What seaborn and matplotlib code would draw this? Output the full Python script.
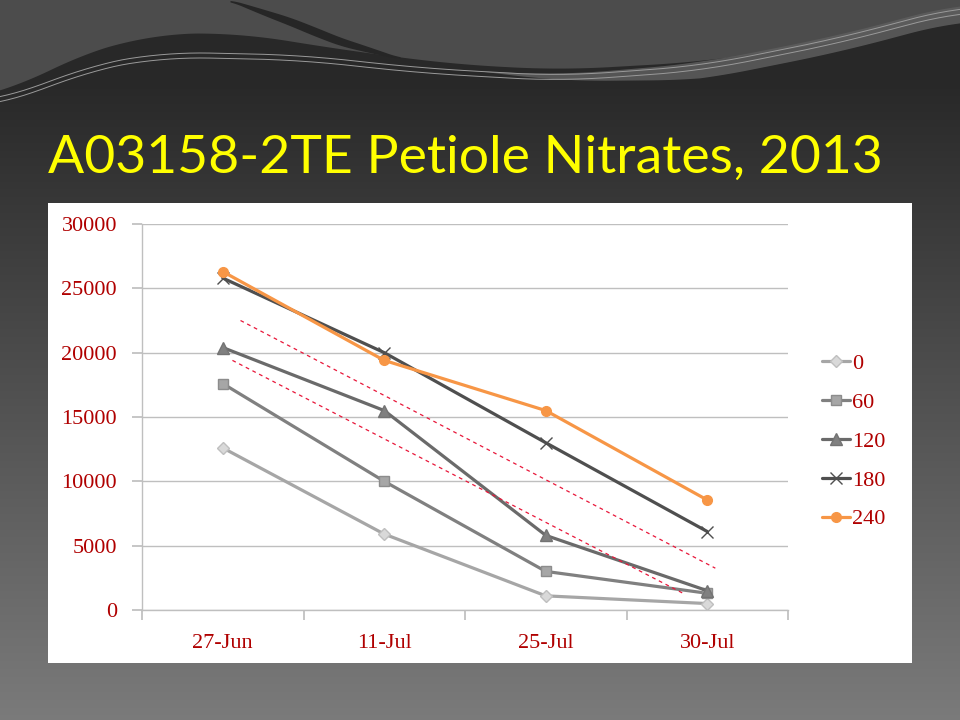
import numpy as np
import pandas as pd
import matplotlib
matplotlib.use("Agg")
import matplotlib.pyplot as plt
import seaborn as sns

# ---- data ----
categories = ['27-Jun', '11-Jul', '25-Jul', '30-Jul']
series_names = ['0', '60', '120', '180', '240']
n0 = [12600, 5900, 1100, 500]
n60 = [17600, 10000, 3000, 1300]
n120 = [20400, 15500, 5800, 1500]
n180 = [25800, 20000, 13000, 6100]
n240 = [26300, 19400, 15500, 8550]
# dashed trend guides (position along category axis, value)
trend_upper_x = [1.11, 4.05]
trend_upper_y = [22500, 3250]
trend_lower_x = [1.06, 3.85]
trend_lower_y = [19400, 1300]
y_ticks = [0, 5000, 10000, 15000, 20000, 25000, 30000]

values = [n0, n60, n120, n180, n240]
rows = []
for name, vals in zip(series_names, values):
    for i, v in enumerate(vals):
        rows.append({'series': name, 'pos': i + 1, 'value': v})
df = pd.DataFrame(rows)

sns.set_theme(style="white")
plt.rcParams['font.family'] = ['DejaVu Sans']

fig = plt.figure(figsize=(9.6, 7.2), dpi=100)

# ---- background ----
bg = fig.add_axes([0, 0, 1, 1], zorder=-10)
bg.set_xlim(0, 960)
bg.set_ylim(720, 0)
bg.axis('off')
grad = np.linspace(0, 1, 256).reshape(-1, 1)
top_c = np.array([0.16, 0.16, 0.16])
bot_c = np.array([0.48, 0.48, 0.48])
t = np.clip((grad - 0.12) / 0.88, 0, 1)
img = (top_c + (bot_c - top_c) * t).reshape(256, 1, 3)
bg.imshow(img, extent=[0, 960, 720, 0], aspect='auto', zorder=0)


def smooth(y, k=25):
    pad = np.pad(y, k, mode='edge')
    ker = np.ones(2 * k + 1) / (2 * k + 1)
    return np.convolve(pad, ker, mode='same')[k:-k]


wx = np.linspace(0, 960, 481)
upper_curve = smooth(np.interp(wx, [0, 60, 150, 240, 330, 450, 560, 700, 850, 960],
                               [98, 62, 34, 33, 48, 64, 70, 62, 40, 12]))
bg.fill_between(wx, 0, upper_curve, color='#4c4c4c', zorder=1, lw=0)
# dark streak
sx = np.linspace(230, 400, 80)
sy = smooth(np.interp(sx, [230, 290, 340, 400], [0, 20, 40, 58]), 5)
thick = 1 + 5 * np.sin(np.linspace(0, np.pi, sx.size))
bg.fill_between(sx, sy - thick / 2, sy + thick, color='#262626', zorder=2, lw=0)
# thin light lines and a soft band along them on the right
line_y = smooth(np.interp(wx, [0, 80, 160, 300, 420, 560, 700, 840, 960],
                          [102, 68, 52, 55, 68, 76, 66, 38, 6]))
band = np.clip((wx - 480) / 220, 0, 1) * 14
bg.fill_between(wx, line_y - band * 0.2, line_y + band, color='#5e5e5e',
                zorder=2, lw=0, alpha=0.85)
for off in (0, 5):
    bg.plot(wx, line_y + off, color='#9a9a9a', lw=0.7, zorder=3)

# title
fig.text(48 / 960, 1 - 158 / 720, 'A03158-2TE Petiole Nitrates, 2013',
         color='#FFFF00', fontsize=38.5, family=['Lato', 'DejaVu Sans'],
         va='center', ha='left')

# white panel
panel = fig.add_axes([48 / 960, 1 - 663 / 720, 864 / 960, 460 / 720], zorder=-5)
panel.set_facecolor('white')
panel.set_xticks([])
panel.set_yticks([])
for s in panel.spines.values():
    s.set_visible(False)

# ---- chart ----
ax = fig.add_axes([142 / 960, 1 - 610 / 720, 646 / 960, 386 / 720])
ax.set_facecolor('none')

styles = {
    '0':   dict(color='#A6A6A6', marker='D', mfc='#D9D9D9', mec='#BFBFBF', ms=6),
    '60':  dict(color='#808080', marker='s', mfc='#A6A6A6', mec='#8C8C8C', ms=7),
    '120': dict(color='#6A6A6A', marker='^', mfc='#808080', mec='#737373', ms=8),
    '180': dict(color='#4F4F4F', marker='x', mfc='#4F4F4F', mec='#4F4F4F', ms=8),
    '240': dict(color='#F79646', marker='o', mfc='#F79646', mec='#F79646', ms=7),
}

for name in series_names:
    st = styles[name]
    sub = df[df['series'] == name]
    sns.lineplot(data=sub, x='pos', y='value', ax=ax, color=st['color'], lw=2.3,
                 marker=st['marker'], markerfacecolor=st['mfc'],
                 markeredgecolor=st['mec'], markersize=st['ms'],
                 markeredgewidth=1.0, label=name, zorder=3)

ax.plot(trend_upper_x, trend_upper_y, color='#E8173A', lw=0.9, ls=(0, (3, 3)), zorder=4)
ax.plot(trend_lower_x, trend_lower_y, color='#E8173A', lw=0.9, ls=(0, (3, 3)), zorder=4)

ax.set_xlim(0.5, 4.5)
ax.set_ylim(0, 30000)
ax.set_yticks(y_ticks)
ax.set_yticklabels([str(v) for v in y_ticks])
ax.yaxis.grid(True, color='#BFBFBF', lw=1)
ax.set_axisbelow(True)
ax.set_xticks([0.5, 1.5, 2.5, 3.5, 4.5])
ax.set_xticklabels([])
ax.set_xticks([1, 2, 3, 4], minor=True)
ax.set_xticklabels(categories, minor=True)
ax.tick_params(axis='x', which='major', length=7, color='#BFBFBF', direction='out', bottom=True)
ax.tick_params(axis='x', which='minor', length=0, pad=17, labelsize=16,
               labelcolor='#B00000')
ax.tick_params(axis='y', length=7, color='#BFBFBF', direction='out', left=True,
               pad=11, labelsize=16, labelcolor='#B00000')
for lab in ax.get_xticklabels(minor=True) + ax.get_yticklabels():
    lab.set_family(['Liberation Serif', 'DejaVu Serif'])
for side in ('top', 'right'):
    ax.spines[side].set_visible(False)
for side in ('left', 'bottom'):
    ax.spines[side].set_color('#BFBFBF')
    ax.spines[side].set_linewidth(1)
ax.set_xlabel('')
ax.set_ylabel('')

leg = ax.legend(loc='center left', bbox_to_anchor=(811 / 960, 1 - 441.5 / 720),
                bbox_transform=fig.transFigure, frameon=False, fontsize=16,
                labelspacing=0.82, handlelength=1.25, handletextpad=0.1,
                borderpad=0)
for txt in leg.get_texts():
    txt.set_color('#B00000')
    txt.set_family(['Liberation Serif', 'DejaVu Serif'])

fig.savefig('out.png', dpi=100)
